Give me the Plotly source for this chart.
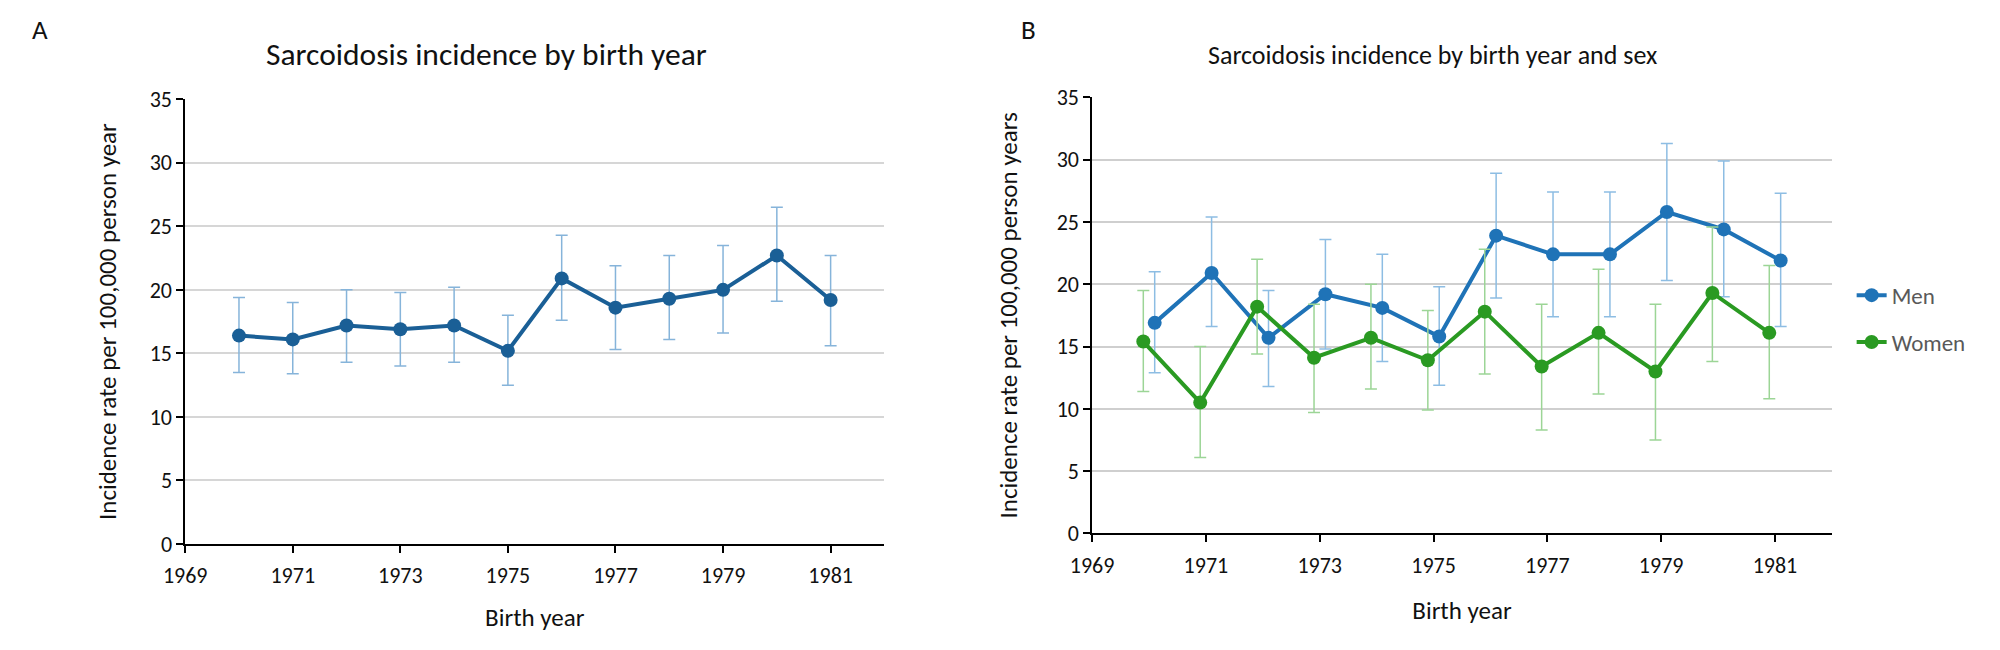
import plotly.graph_objects as go

# ---------------- data ----------------
years = [1970, 1971, 1972, 1973, 1974, 1975, 1976, 1977, 1978, 1979, 1980, 1981]

all_rate = [16.4, 16.1, 17.2, 16.9, 17.2, 15.2, 20.9, 18.6, 19.3, 20.0, 22.7, 19.2]
all_low = [13.5, 13.4, 14.3, 14.0, 14.3, 12.5, 17.6, 15.3, 16.1, 16.6, 19.1, 15.6]
all_high = [19.4, 19.0, 20.0, 19.8, 20.2, 18.0, 24.3, 21.9, 22.7, 23.5, 26.5, 22.7]

men_rate = [16.9, 20.9, 15.7, 19.2, 18.1, 15.8, 23.9, 22.4, 22.4, 25.8, 24.4, 21.9]
men_low = [12.9, 16.6, 11.8, 14.8, 13.8, 11.9, 18.9, 17.4, 17.4, 20.3, 19.0, 16.6]
men_high = [21.0, 25.4, 19.5, 23.6, 22.4, 19.8, 28.9, 27.4, 27.4, 31.3, 29.9, 27.3]

women_rate = [15.4, 10.5, 18.2, 14.1, 15.7, 13.9, 17.8, 13.4, 16.1, 13.0, 19.3, 16.1]
women_low = [11.4, 6.1, 14.4, 9.7, 11.6, 9.9, 12.8, 8.3, 11.2, 7.5, 13.8, 10.8]
women_high = [19.5, 15.0, 22.0, 18.4, 20.0, 17.9, 22.8, 18.4, 21.2, 18.4, 24.6, 21.5]

x_ticks = [1969, 1971, 1973, 1975, 1977, 1979, 1981]
y_ticks = [0, 5, 10, 15, 20, 25, 30, 35]

title_a = "Sarcoidosis incidence by birth year"
title_b = "Sarcoidosis incidence by birth year and sex"
ytitle_a = "Incidence rate per 100,000 person year"
ytitle_b = "Incidence rate per 100,000 person years"
xtitle = "Birth year"

# ---------------- style ----------------
FONT = "Carlito, Lato, sans-serif"
W, H = 2000, 650
C_ALL = "#1a5f96"
C_ALL_ERR = "#86b4da"
C_MEN = "#1f73b7"
C_MEN_ERR = "#8dbde3"
C_WOMEN = "#2a9a22"
C_WOMEN_ERR = "#9cd596"
GRID_A = "#d6d6d6"
GRID_B = "#cfcfcf"
SHIFT = 0.1  # horizontal offset used for the two sexes


def err(rate, low, high, color):
    return dict(type="data", symmetric=False,
                array=[h - r for h, r in zip(high, rate)],
                arrayminus=[r - l for r, l in zip(rate, low)],
                color=color, thickness=1.5, width=6)


fig = go.Figure()

fig.add_trace(go.Scatter(x=years, y=all_rate, mode="lines+markers",
                         line=dict(color=C_ALL, width=4),
                         marker=dict(color=C_ALL, size=14),
                         error_y=err(all_rate, all_low, all_high, C_ALL_ERR),
                         showlegend=False, xaxis="x", yaxis="y"))

fig.add_trace(go.Scatter(x=[y + SHIFT for y in years], y=men_rate,
                         mode="lines+markers", name="Men",
                         line=dict(color=C_MEN, width=4),
                         marker=dict(color=C_MEN, size=14),
                         error_y=err(men_rate, men_low, men_high, C_MEN_ERR),
                         legendgroup="m", xaxis="x2", yaxis="y2"))

fig.add_trace(go.Scatter(x=[y - SHIFT for y in years], y=women_rate,
                         mode="lines+markers", name="Women",
                         line=dict(color=C_WOMEN, width=4),
                         marker=dict(color=C_WOMEN, size=14),
                         error_y=err(women_rate, women_low, women_high, C_WOMEN_ERR),
                         legendgroup="w", xaxis="x2", yaxis="y2"))


def xax(domain, anchor, standoff):
    return dict(domain=domain, anchor=anchor, range=[1969, 1982],
                tickmode="array", tickvals=x_ticks, ticks="outside",
                ticklen=7, tickcolor="#000", tickwidth=1.5,
                ticklabelstandoff=4,
                showline=True, linecolor="#000", linewidth=1.5,
                showgrid=False, zeroline=False,
                tickfont=dict(family=FONT, size=22, color="#111"),
                title=dict(text=xtitle, standoff=standoff,
                           font=dict(family=FONT, size=25, color="#111")))


def yax(domain, anchor, title, standoff, grid):
    return dict(domain=domain, anchor=anchor, range=[0, 35],
                tickmode="array", tickvals=y_ticks, ticks="outside",
                ticklen=7, tickcolor="#000", tickwidth=1.5,
                showline=True, linecolor="#000", linewidth=1.5,
                showgrid=True, gridcolor=grid, gridwidth=2,
                zeroline=False,
                tickfont=dict(family=FONT, size=22, color="#111"),
                title=dict(text=title, standoff=standoff,
                           font=dict(family=FONT, size=25, color="#111")))


fig.update_layout(
    width=W, height=H,
    margin=dict(l=0, r=0, t=0, b=0),
    paper_bgcolor="white", plot_bgcolor="white",
    font=dict(family=FONT, color="#111"),
    xaxis=xax([165 / W, 872 / W], "y", 20),
    yaxis=yax([96 / H, 560 / H], "x", ytitle_a, 26, GRID_A),
    xaxis2=xax([1082 / W, 1830 / W], "y2", 24),
    yaxis2=yax([107 / H, 562 / H], "x2", ytitle_b, 32, GRID_B),
    legend=dict(x=1850 / W, y=1 - 272 / H, xanchor="left", yanchor="top",
                traceorder="grouped", tracegroupgap=14,
                font=dict(family=FONT, size=23, color="#595959"),
                bgcolor="rgba(0,0,0,0)"),
    annotations=[
        dict(text="A", x=8 / W, y=1 - 17 / H, xref="paper", yref="paper",
             xanchor="left", yanchor="middle", showarrow=False,
             font=dict(family=FONT, size=27, color="#111")),
        dict(text="B", x=1008 / W, y=1 - 17 / H, xref="paper", yref="paper",
             xanchor="left", yanchor="middle", showarrow=False,
             font=dict(family=FONT, size=27, color="#111")),
        dict(text=title_a, x=470 / W, y=1 - 43 / H, xref="paper", yref="paper",
             xanchor="center", yanchor="middle", showarrow=False,
             font=dict(family=FONT, size=31.5, color="#111")),
        dict(text=title_b, x=1426 / W, y=1 - 44 / H, xref="paper", yref="paper",
             xanchor="center", yanchor="middle", showarrow=False,
             font=dict(family=FONT, size=26, color="#111")),
    ],
)

fig.write_html("out.html", config={"displayModeBar": False},
               post_script="document.body.style.margin='0';")
